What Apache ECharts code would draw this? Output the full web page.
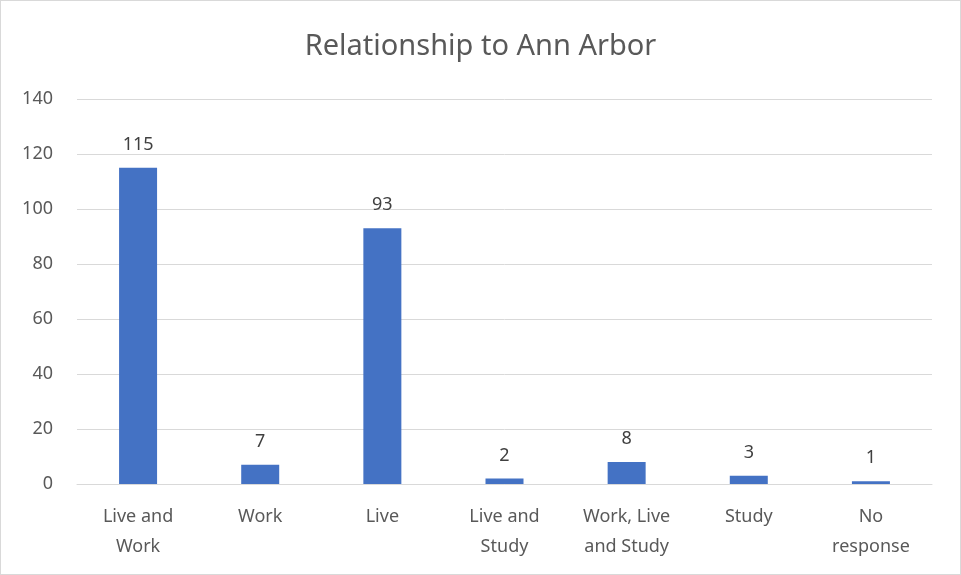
<!DOCTYPE html>
<html>
<head>
<meta charset="utf-8">
<script src="https://cdn.jsdelivr.net/npm/echarts@6/dist/echarts.min.js"></script>
<style>
  html, body { margin: 0; padding: 0; background: #fff; }
  #chart { width: 959px; height: 573px; border: 1px solid #d9d9d9; }
</style>
</head>
<body>
<div id="chart"></div>
<script>
  var categories = ['Live and\nWork', 'Work', 'Live', 'Live and\nStudy', 'Work, Live\nand Study', 'Study', 'No\nresponse']
  var counts = [115, 7, 93, 2, 8, 3, 1]
  var yTicks = { min: 0, max: 140, interval: 20 }

  var chart = echarts.init(document.getElementById('chart'))
  chart.setOption({
    textStyle: { fontFamily: 'Noto Sans' },
    title: {
      text: 'Relationship to Ann Arbor',
      left: 'center',
      top: 26,
      textStyle: { color: '#595959', fontSize: 29, fontWeight: 'normal', fontFamily: 'Noto Sans' }
    },
    grid: { left: 76, right: 28, top: 98, bottom: 90 },
    xAxis: {
      type: 'category',
      data: categories,
      axisTick: { show: false },
      axisLine: { lineStyle: { color: '#d9d9d9' } },
      axisLabel: { color: '#595959', fontSize: 18, margin: 18, lineHeight: 30, interval: 0 }
    },
    yAxis: {
      type: 'value',
      min: yTicks.min,
      max: yTicks.max,
      interval: yTicks.interval,
      axisLine: { show: false },
      axisTick: { show: false },
      splitLine: { lineStyle: { color: '#d9d9d9' } },
      axisLabel: { color: '#595959', fontSize: 18, margin: 24 }
    },
    series: [
      {
        type: 'bar',
        data: counts,
        barWidth: 38,
        itemStyle: { color: '#4472C4' },
        label: { show: true, position: 'top', color: '#404040', fontSize: 18, distance: 14 }
      }
    ]
  })
</script>
</body>
</html>
